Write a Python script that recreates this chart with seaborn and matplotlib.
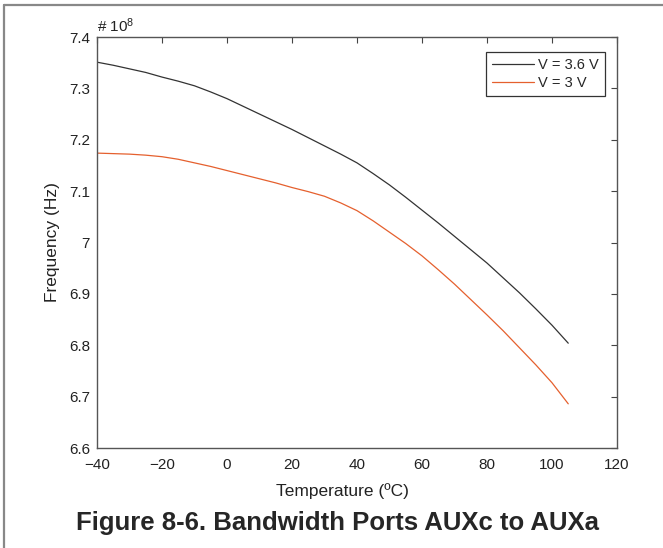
import numpy as np
import pandas as pd
import matplotlib
matplotlib.use("Agg")
import matplotlib.pyplot as plt
from matplotlib.lines import Line2D
from matplotlib.ticker import FuncFormatter
import seaborn as sns

# ─────────────────────────────────────────────
# Data (frequency in units of 1e8 Hz)
# ─────────────────────────────────────────────
temps = [-40, -35, -30, -25, -20, -15, -10, -5, 0, 5, 10, 15, 20, 25, 30,
         35, 40, 45, 50, 55, 60, 65, 70, 75, 80, 85, 90, 95, 100, 105]
freq_36v = [7.351, 7.345, 7.338, 7.331, 7.322, 7.314, 7.305, 7.293, 7.280, 7.265,
            7.250, 7.235, 7.220, 7.204, 7.188, 7.172, 7.155, 7.134, 7.112, 7.088,
            7.063, 7.038, 7.012, 6.986, 6.960, 6.931, 6.902, 6.871, 6.839, 6.804]
freq_3v = [7.174, 7.173, 7.172, 7.170, 7.167, 7.162, 7.155, 7.148, 7.140, 7.132,
           7.124, 7.116, 7.107, 7.099, 7.090, 7.077, 7.062, 7.042, 7.020, 6.998,
           6.974, 6.947, 6.919, 6.889, 6.859, 6.828, 6.795, 6.762, 6.727, 6.686]
series_names = ["V = 3.6 V", "V = 3 V"]
colors = ["#333333", "#E5602E"]

x_ticks = list(range(-40, 121, 20))
y_ticks = [6.6, 6.7, 6.8, 6.9, 7.0, 7.1, 7.2, 7.3, 7.4]

df = pd.DataFrame({
    "temp": temps * 2,
    "freq": freq_36v + freq_3v,
    "series": [series_names[0]] * len(temps) + [series_names[1]] * len(temps),
})

# ─────────────────────────────────────────────
# Style
# ─────────────────────────────────────────────
sns.set_style("white")
plt.rcParams["font.family"] = ["Liberation Sans", "DejaVu Sans"]
plt.rcParams["mathtext.fontset"] = "custom"
plt.rcParams["mathtext.rm"] = "Liberation Sans"

fig = plt.figure(figsize=(6.63, 5.48), dpi=100)
ax = fig.add_axes([97 / 663, 1 - 448 / 548, 520 / 663, 411 / 548])

sns.lineplot(data=df, x="temp", y="freq", hue="series",
             palette=dict(zip(series_names, colors)),
             linewidth=0.9, ax=ax)

ax.set_xlim(-40, 120)
ax.set_ylim(6.6, 7.4)
ax.set_xticks(x_ticks)
ax.set_yticks(y_ticks)
ax.yaxis.set_major_formatter(FuncFormatter(lambda v, _: f"{v:g}"))
ax.xaxis.set_major_formatter(FuncFormatter(lambda v, _: f"{v:g}".replace("-", "\u2212")))

ax.tick_params(direction="in", top=True, right=True, length=4, width=0.8,
               color="#444444", labelcolor="#222222", labelsize=11)
ax.tick_params(axis="x", pad=7.5)
ax.tick_params(axis="y", pad=5)
for sp in ax.spines.values():
    sp.set_color("#555555")
    sp.set_linewidth(1.0)

ax.set_xlabel("Temperature (ºC)", fontsize=12.5, color="#222222")
ax.set_ylabel("Frequency (Hz)", fontsize=12.5, color="#222222")
ax.xaxis.set_label_coords((342 - 97) / 520, -(483 - 448) / 411)
ax.yaxis.set_label_coords(-(97 - 60) / 520, 0.5)

ax.text(0.0, 1.005, r"# $\mathregular{10^{8}}$", transform=ax.transAxes,
        ha="left", va="bottom", fontsize=11, color="#222222")

leg = ax.legend(loc="upper right", bbox_to_anchor=(0.977, 0.9635),
                borderaxespad=0, fontsize=10.5, frameon=True, fancybox=False,
                framealpha=1, edgecolor="#333333", handlelength=2.9,
                handletextpad=0.3, borderpad=0.4, labelspacing=0.3)
leg.get_frame().set_linewidth(0.9)

fig.text((67 + 608) / 2 / 663, 1 - 523 / 548,
         "Figure 8-6. Bandwidth Ports AUXc to AUXa",
         ha="center", va="center", fontsize=18.5, fontweight="bold")

# outer frame (top and left edges)
fig.add_artist(Line2D([4 / 663, 1], [1 - 5 / 548, 1 - 5 / 548],
                      transform=fig.transFigure, color="#888888", lw=1.6))
fig.add_artist(Line2D([4 / 663, 4 / 663], [0, 1 - 5 / 548],
                      transform=fig.transFigure, color="#888888", lw=1.6))

fig.savefig("out.png", dpi=100)
